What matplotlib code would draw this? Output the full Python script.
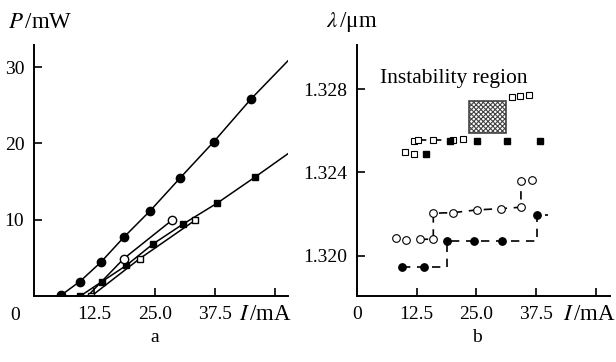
import numpy as np
import matplotlib
matplotlib.use("Agg")
import matplotlib.pyplot as plt
from matplotlib.patches import Rectangle

plt.rcParams['font.family'] = ['Liberation Serif', 'DejaVu Serif']
plt.rcParams['mathtext.fontset'] = 'stix'
plt.rcParams['hatch.linewidth'] = 0.8

# --- panel a: output power vs current ---
circ_I = [5.6, 9.5, 13.8, 18.6, 24.1, 30.3, 37.2, 44.9, 52.7]
circ_P = [0.1, 1.9, 4.4, 7.7, 11.2, 15.5, 20.2, 25.8, 30.9]

sq_I = [9.6, 14.1, 19.1, 24.6, 30.8, 38.0, 45.8, 52.7]
sq_P = [0.0, 1.9, 4.0, 6.8, 9.4, 12.2, 15.6, 18.7]

ocirc_I = [11.1, 18.6, 28.5]
ocirc_P = [0.0, 4.9, 9.9]

osq_I = [11.9, 21.9, 33.3]
osq_P = [0.0, 4.9, 9.9]

# --- panel b: wavelength vs current ---
b_circ_I = [9.5, 14.1, 18.8, 24.4, 30.4, 37.6, 40.0]
b_circ_L = [1.31947, 1.31947, 1.32071, 1.32071, 1.32071, 1.32196, 1.32196]

b_ocirc_I = [8.2, 10.2, 13.2, 16.0, 16.0, 20.2, 25.1, 30.1, 34.3, 34.3, 36.6]
b_ocirc_L = [1.32084, 1.32075, 1.32079, 1.32079, 1.32204, 1.32207, 1.32220,
             1.32226, 1.32233, 1.32359, 1.32364]

b_sq_I = [14.4, 19.4, 25.1, 31.3, 38.2]
b_sq_L = [1.32487, 1.32551, 1.32551, 1.32551, 1.32551]

b_osq_I = [10.1, 12.0, 12.0, 12.9, 16.0, 20.1, 22.2, 32.4, 34.0, 36.0]
b_osq_L = [1.32497, 1.32490, 1.32551, 1.32556, 1.32556, 1.32556, 1.32560,
           1.32764, 1.32769, 1.32773]

instab_I = (23.5, 31.2)
instab_L = (1.32591, 1.32744)

W, H = 616, 362
fig = plt.figure(figsize=(W / 100, H / 100), dpi=100)


def px(x, y):
    return x / W, 1 - y / H


def style_axes(ax):
    for s in ['top', 'right']:
        ax.spines[s].set_visible(False)
    for s in ['left', 'bottom']:
        ax.spines[s].set_linewidth(1.4)
    ax.tick_params(direction='in', length=6, width=1.2, labelsize=14, pad=7)


# panel a
ax1 = fig.add_axes([34 / W, 66 / H, 254 / W, 251 / H])
style_axes(ax1)
ax1.plot(circ_I, circ_P, '-', color='k', lw=1.1, marker='o', ms=6,
         markevery=list(range(len(circ_I) - 1)))
ax1.plot(sq_I, sq_P, '-', color='k', lw=1.1, marker='s', ms=5,
         markevery=list(range(len(sq_I) - 1)))
ax1.plot(ocirc_I, ocirc_P, '-', color='k', lw=1.1, marker='o', ms=6,
         mfc='white', markevery=[1, 2])
ax1.plot(osq_I, osq_P, '-', color='k', lw=1.1, marker='s', ms=5, mfc='white')
ax1.set_xlim(0, 52.6)
ax1.set_ylim(0, 32.9)
ax1.set_xticks([12.5, 25.0, 37.5, 50.0])
ax1.set_xticklabels(['12.5', '25.0', '37.5', ''])
ax1.set_yticks([10, 20, 30])

fig.text(*px(8, 23), r'$P\,$/mW', fontsize=16.5, va='center', ha='left')
fig.text(*px(15, 315), '0', fontsize=14, va='center', ha='center')
fig.text(*px(266, 314), r'$I\,$/mA', fontsize=16.5, va='center', ha='center')
fig.text(*px(155, 338), 'a', fontsize=14, va='center', ha='center')

# panel b
ax2 = fig.add_axes([356.7 / W, 66 / H, 253.3 / W, 251 / H])
style_axes(ax2)
dash = (0, (5, 4))
ax2.plot(b_circ_I, b_circ_L, color='k', lw=1.2, ls=dash, drawstyle='steps-post')
ax2.plot(b_circ_I[:-1], b_circ_L[:-1], 'o', color='k', ms=5.3)
ax2.plot(b_ocirc_I[2:], b_ocirc_L[2:], color='k', lw=1.2, ls=dash)
ax2.plot(b_ocirc_I, b_ocirc_L, 'o', color='k', mfc='white', mew=0.8, ms=5.5)
ax2.plot(b_osq_I[3:6], b_osq_L[3:6], color='k', lw=1.2, ls=dash)
ax2.plot(b_osq_I, b_osq_L, 's', color='k', mfc='white', mew=0.8, ms=5)
ax2.plot(b_sq_I, b_sq_L, 's', color='k', ms=5)
ax2.add_patch(Rectangle((instab_I[0], instab_L[0]), instab_I[1] - instab_I[0],
                        instab_L[1] - instab_L[0], facecolor='white',
                        edgecolor='#444444', hatch='xxxxxxx', lw=1.2))
ax2.text(4.9, 1.32854, 'Instability region', fontsize=15.5, va='center', ha='left')
ax2.set_xlim(0, 52.9)
ax2.set_ylim(1.31806, 1.33013)
ax2.set_xticks([0, 12.5, 25.0, 37.5, 50.0])
ax2.set_xticklabels(['0', '12.5', '25.0', '37.5', ''])
ax2.set_yticks([1.320, 1.324, 1.328])
ax2.set_yticklabels(['1.320', '1.324', '1.328'])

fig.text(*px(326, 22), r'$\lambda\,$/μm', fontsize=16.5, va='center', ha='left')
fig.text(*px(590, 314), r'$I\,$/mA', fontsize=16.5, va='center', ha='center')
fig.text(*px(477, 338), 'b', fontsize=14, va='center', ha='center')

fig.savefig('out.png', dpi=100)
